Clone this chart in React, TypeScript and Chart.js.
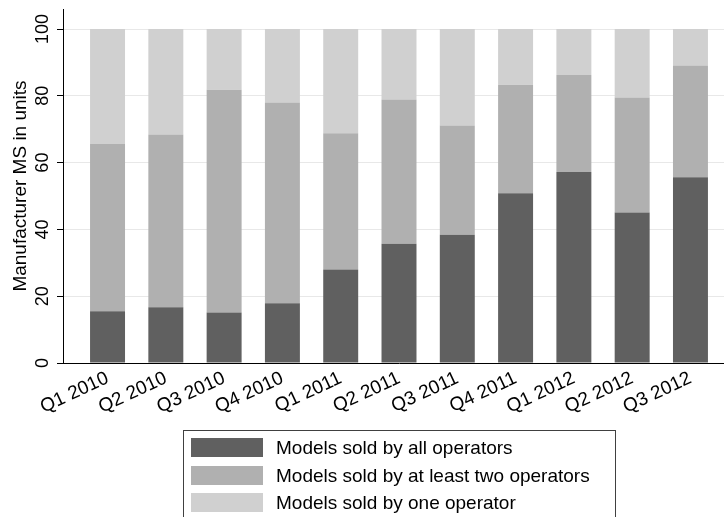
import React, { useEffect, useRef } from 'react';
import { Chart, registerables } from 'chart.js';

Chart.register(...registerables);

const categories = ['Q1 2010', 'Q2 2010', 'Q3 2010', 'Q4 2010', 'Q1 2011', 'Q2 2011', 'Q3 2011', 'Q4 2011', 'Q1 2012', 'Q2 2012', 'Q3 2012'];
const seriesNames = ['Models sold by all operators', 'Models sold by at least two operators', 'Models sold by one operator'];
const allOperators = [15.5, 16.7, 15.1, 17.9, 28.0, 35.7, 38.4, 50.8, 57.2, 45.1, 55.6];
const atLeastTwo = [50.1, 51.7, 66.7, 60.1, 40.8, 43.2, 32.7, 32.5, 29.0, 34.4, 33.5];
const oneOperator = [34.4, 31.6, 18.2, 22.0, 31.2, 21.1, 28.9, 16.7, 13.8, 20.5, 10.9];
const seriesColors = ['#606060', '#b0b0b0', '#d0d0d0'];
const yTicks = [0, 20, 40, 60, 80, 100];
const yTitle = 'Manufacturer MS in units';

const FONT = '"Liberation Sans", Arial, Helvetica, sans-serif';
const W = 735;
const H = 517;

export default function App() {
  const ref = useRef<HTMLCanvasElement>(null);

  useEffect(() => {
    if (!ref.current) return;
    const series = [allOperators, atLeastTwo, oneOperator];
    const yLabelPlugin = {
      id: 'yRotLabels',
      afterDraw(chart: any) {
        const ys = chart.scales.y;
        const ctx = chart.ctx;
        ctx.save();
        ctx.font = `18px ${FONT}`;
        ctx.fillStyle = '#000';
        ctx.textAlign = 'center';
        ctx.textBaseline = 'middle';
        for (const v of yTicks) {
          const py = ys.getPixelForValue(v);
          ctx.save();
          ctx.translate(43, py);
          ctx.rotate(-Math.PI / 2);
          ctx.fillText(String(v), 0, 0);
          ctx.restore();
        }
        ctx.restore();
      },
    };
    const chart = new Chart(ref.current, {
      type: 'bar',
      data: {
        datasets: series.map((vals, k) => ({
          label: seriesNames[k],
          data: vals.map((v, i) => ({ x: i, y: v })),
          backgroundColor: seriesColors[k],
          borderWidth: 0,
          barPercentage: 0.6,
          categoryPercentage: 1,
        })),
      },
      options: {
        animation: false,
        responsive: false,
        devicePixelRatio: 1,
        layout: { padding: { top: 9, left: 0, right: 0, bottom: 0 } },
        plugins: { legend: { display: false }, tooltip: { enabled: false } },
        scales: {
          x: {
            type: 'linear',
            stacked: true,
            offset: false,
            min: -0.764,
            max: 10.764,
            afterFit: (s: any) => { s.height = 154; },
            afterBuildTicks: (s: any) => { s.ticks = categories.map((_, i) => ({ value: i })); },
            grid: { display: false, drawTicks: false, offset: false },
            border: { display: true, color: '#000', width: 1 },
            ticks: {
              autoSkip: false,
              minRotation: 25,
              maxRotation: 25,
              padding: 4,
              color: '#000',
              font: { family: FONT, size: 19 },
              callback: (v: any) => categories[v] ?? '',
            },
          },
          y: {
            stacked: true,
            min: 0,
            max: 106,
            afterFit: (s: any) => { s.width = 63; },
            afterBuildTicks: (s: any) => { s.ticks = yTicks.map((v) => ({ value: v })); },
            grid: { color: '#e8e8e8', tickColor: '#000', tickLength: 6, drawTicks: true, lineWidth: 1 },
            border: { display: true, color: '#000', width: 1 },
            ticks: { display: false },
            title: {
              display: true,
              text: yTitle,
              color: '#000',
              font: { family: FONT, size: 19 },
              padding: { top: 9, bottom: 0 },
            },
          },
        },
      },
      plugins: [yLabelPlugin],
    } as any);
    return () => chart.destroy();
  }, []);

  return (
    <div style={{ position: 'fixed', left: 0, top: 0, width: 724, height: 517, overflow: 'hidden', background: '#fff' }}>
      <canvas ref={ref} width={W} height={H} style={{ position: 'absolute', left: 0, top: 0, width: W, height: H }} />
      <div
        style={{
          position: 'absolute',
          left: 183,
          top: 430,
          width: 433,
          height: 110,
          border: '1px solid #404040',
          boxSizing: 'border-box',
          fontFamily: FONT,
          fontSize: 19,
          color: '#000',
        }}
      >
        {seriesNames.map((name, k) => (
          <div
            key={name}
            style={{ position: 'absolute', left: 7, top: 7 + k * 27.5, height: 19, display: 'flex', alignItems: 'center', whiteSpace: 'nowrap' }}
          >
            <div style={{ width: 72, height: 19, background: seriesColors[k] }} />
            <span style={{ marginLeft: 13, lineHeight: '19px' }}>{name}</span>
          </div>
        ))}
      </div>
    </div>
  );
}
